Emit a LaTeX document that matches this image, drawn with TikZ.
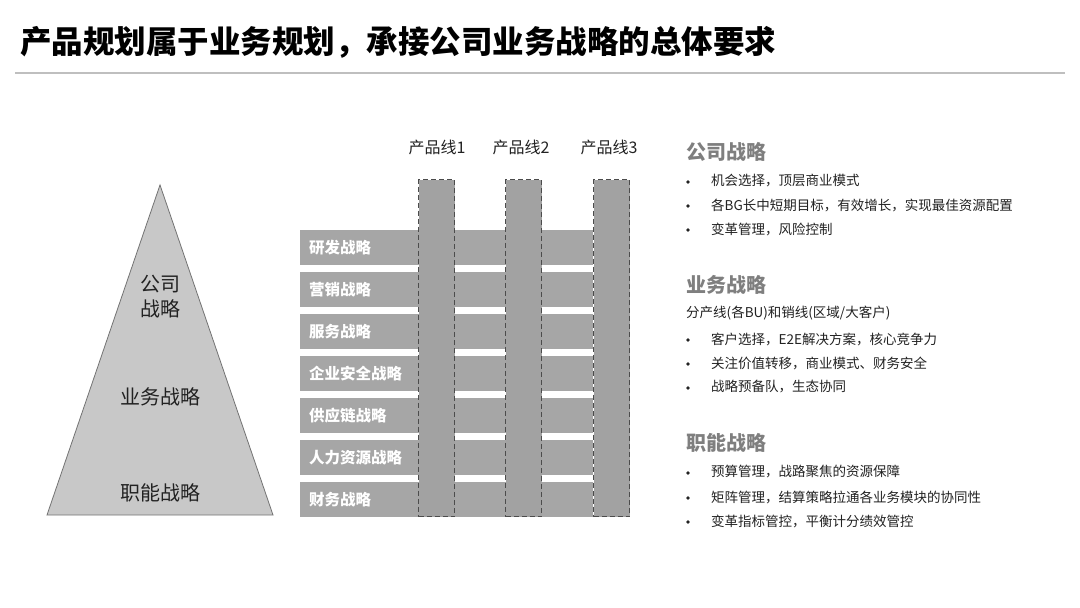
\documentclass[tikz,border=0pt]{standalone}
\usepackage{fontspec}
\setmainfont{Noto Sans CJK SC}
\definecolor{barfill}{HTML}{A6A6A6}
\definecolor{colfill}{HTML}{A2A2A2}
\definecolor{tri}{HTML}{C8C8C8}
\definecolor{head}{HTML}{7F7F7F}
\definecolor{txt}{HTML}{222222}
\begin{document}
\begin{tikzpicture}[x=1pt,y=-1pt,
  bar/.style={fill=barfill,draw=none,anchor=north west,minimum height=35pt,text width=275pt,inner xsep=9pt,inner ysep=0pt,align=left,text=white,font=\fontsize{15.5}{18}\selectfont\bfseries},
  col/.style={fill=colfill,draw=black!70,dash pattern=on 5pt off 3pt,line width=1.3pt,anchor=north west,minimum width=36pt,minimum height=337pt,inner sep=0pt},
  colhead/.style={text=txt,font=\fontsize{16}{19}\selectfont,inner sep=0pt},
  tritext/.style={text=txt,font=\fontsize{20}{24}\selectfont,inner sep=0pt,align=center},
  rhead/.style={anchor=west,text=head,font=\fontsize{20}{24}\selectfont\bfseries,inner sep=0pt},
  rtext/.style={anchor=west,text=txt,font=\fontsize{13.5}{16}\selectfont,inner sep=0pt},
  dot/.style={circle,fill=txt,draw=none,minimum size=3.6pt,inner sep=0pt}
]
\useasboundingbox (0,0) rectangle (1080,608);
\fill[white] (0,0) rectangle (1080,608);
% title
\node[anchor=west,inner sep=0pt,font=\fontsize{31.5}{36}\selectfont\bfseries,text=black] (title) at (20,42) {产品规划属于业务规划，承接公司业务战略的总体要求};
\coordinate (rl) at (15,73);
\coordinate (rr) at (1065,73);
\draw[black!25,line width=1.5pt] (rl) -- (rr);
% pyramid
\coordinate (apex) at (160,185);
\coordinate (bl) at (47,515);
\coordinate (br) at (273,515);
\draw[fill=tri,draw=black!55,line width=0.8pt] (apex) -- (br) -- (bl) -- cycle;
\node[tritext] (t1) at (160,297) {公司\\[1pt]战略};
\node[tritext] (t2) at (160,397) {业务战略};
\node[tritext] (t3) at (160,493) {职能战略};
% bars
\node[bar] (b1) at (300,230) {研发战略};
\node[bar] (b2) at (300,272) {营销战略};
\node[bar] (b3) at (300,314) {服务战略};
\node[bar] (b4) at (300,356) {企业安全战略};
\node[bar] (b5) at (300,398) {供应链战略};
\node[bar] (b6) at (300,440) {人力资源战略};
\node[bar] (b7) at (300,482) {财务战略};
% columns
\node[col] (c1) at (418,179) {};
\node[col] (c2) at (505,179) {};
\node[col] (c3) at (593,179) {};
\node[colhead] (h1) at (437,147) {产品线1};
\node[colhead] (h2) at (521,147) {产品线2};
\node[colhead] (h3) at (609,147) {产品线3};
% right texts
\node[rhead] (r1) at (686,152) {公司战略};
\node[dot] (d11) at (688,182) {};
\node[rtext] (r11) at (711,181) {机会选择，顶层商业模式};
\node[dot] (d12) at (688,206) {};
\node[rtext] (r12) at (711,205) {各BG长中短期目标，有效增长，实现最佳资源配置};
\node[dot] (d13) at (688,230) {};
\node[rtext] (r13) at (711,229) {变革管理，风险控制};
\node[rhead] (r2) at (686,285) {业务战略};
\node[rtext] (r20) at (686,313) {分产线(各BU)和销线(区域/大客户)};
\node[dot] (d21) at (688,340) {};
\node[rtext] (r21) at (711,339) {客户选择，E2E解决方案，核心竞争力};
\node[dot] (d22) at (688,364) {};
\node[rtext] (r22) at (711,363) {关注价值转移，商业模式、财务安全};
\node[dot] (d23) at (688,388) {};
\node[rtext] (r23) at (711,387) {战略预备队，生态协同};
\node[rhead] (r3) at (686,443) {职能战略};
\node[dot] (d31) at (688,473) {};
\node[rtext] (r31) at (711,472) {预算管理，战路聚焦的资源保障};
\node[dot] (d32) at (688,498) {};
\node[rtext] (r32) at (711,497) {矩阵管理，结算策略拉通各业务模块的协同性};
\node[dot] (d33) at (688,522) {};
\node[rtext] (r33) at (711,521) {变革指标管控，平衡计分绩效管控};
\end{tikzpicture}
\end{document}
